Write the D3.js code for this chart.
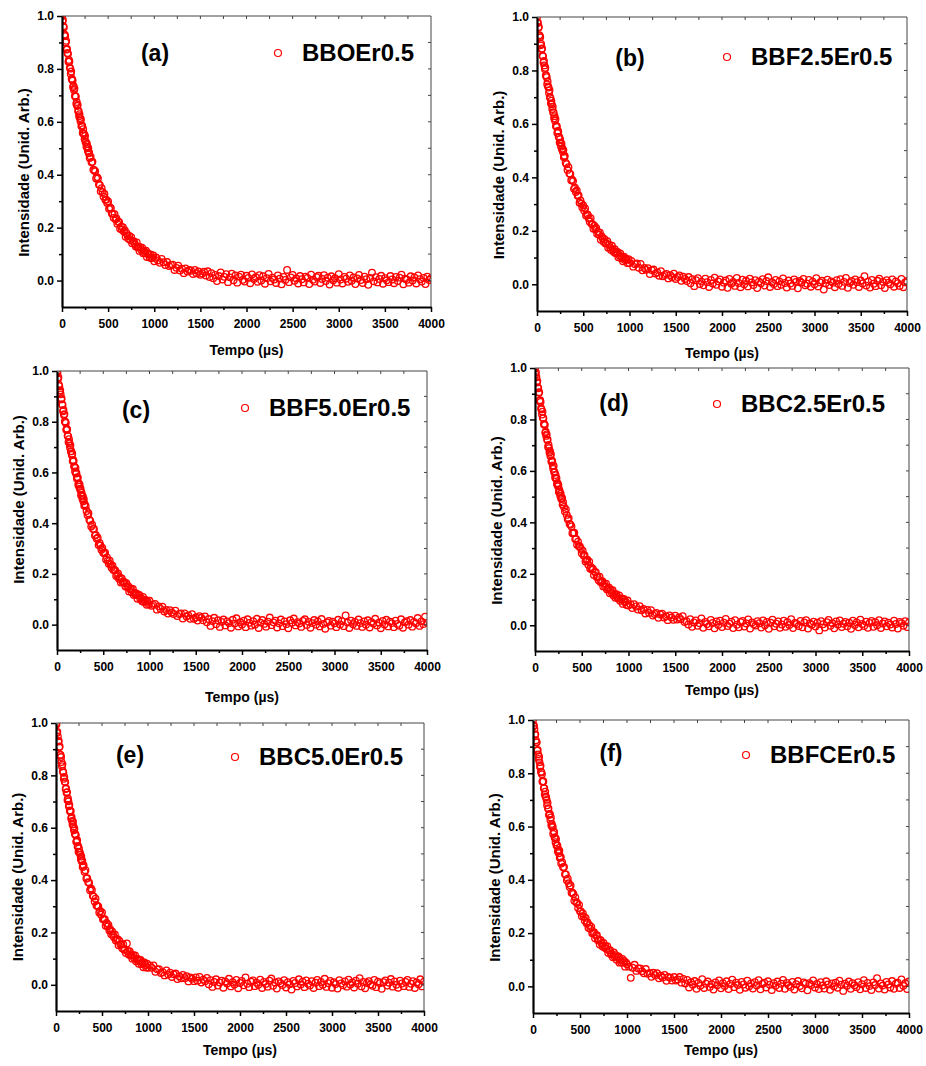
<!DOCTYPE html>
<html>
<head>
<meta charset="utf-8">
<script src="https://cdn.jsdelivr.net/npm/d3@7"></script>
<style>
  body { margin: 0; background: #fff; }
  svg text { font-family: "Liberation Sans", Arial, sans-serif; font-weight: bold; fill: #000; }
  .tick text { font-family: "Liberation Sans Narrow", "Liberation Sans", Arial, sans-serif; font-size: 12px; }
</style>
</head>
<body>
<div id="chart"></div>
<script>
// sampling times (µs), shared by every decay curve
const timeUs = [
  0, 5, 10, 15, 20, 25, 30, 35, 40, 45,
  50, 55, 60, 65, 70, 75, 80, 85, 90, 95,
  100, 105, 110, 115, 120, 125, 130, 135, 140, 145,
  150, 155, 160, 165, 170, 175, 180, 185, 190, 195,
  200, 205, 210, 215, 220, 225, 230, 235, 240, 245,
  250, 255, 260, 265, 270, 275, 280, 285, 290, 295,
  300,
  310, 320, 330, 340, 350, 360, 370, 380, 390, 400,
  410, 420, 430, 440, 450, 460, 470, 480, 490, 500,
  510, 520, 530, 540, 550, 560, 570, 580, 590, 600,
  610, 620, 630, 640, 650, 660, 670, 680, 690, 700,
  710, 720, 730, 740, 750, 760, 770, 780, 790, 800,
  810, 820, 830, 840, 850, 860, 870, 880, 890, 900,
  910, 920, 930, 940, 950, 960, 970, 980, 990, 1000,
  1020, 1040, 1060, 1080, 1100, 1120, 1140, 1160, 1180, 1200,
  1220, 1240, 1260, 1280, 1300, 1320, 1340, 1360, 1380, 1400,
  1420, 1440, 1460, 1480, 1500, 1520, 1540, 1560, 1580, 1600,
  1620, 1640, 1660, 1680, 1700, 1720, 1740, 1760, 1780, 1800,
  1820, 1840, 1860, 1880, 1900, 1920, 1940, 1960, 1980, 2000,
  2020, 2040, 2060, 2080, 2100, 2120, 2140, 2160, 2180, 2200,
  2220, 2240, 2260, 2280, 2300, 2320, 2340, 2360, 2380, 2400,
  2420, 2440, 2460, 2480, 2500, 2520, 2540, 2560, 2580, 2600,
  2620, 2640, 2660, 2680, 2700, 2720, 2740, 2760, 2780, 2800,
  2820, 2840, 2860, 2880, 2900, 2920, 2940, 2960, 2980, 3000,
  3020, 3040, 3060, 3080, 3100, 3120, 3140, 3160, 3180, 3200,
  3220, 3240, 3260, 3280, 3300, 3320, 3340, 3360, 3380, 3400,
  3420, 3440, 3460, 3480, 3500, 3520, 3540, 3560, 3580, 3600,
  3620, 3640, 3660, 3680, 3700, 3720, 3740, 3760, 3780, 3800,
  3820, 3840, 3860, 3880, 3900, 3920, 3940, 3960, 3980, 4000
];

const intensityA = [
  1.000, 0.981, 0.985, 0.961, 0.957, 0.928, 0.929, 0.924, 0.900, 0.906,
  0.873, 0.875, 0.860, 0.857, 0.827, 0.834, 0.828, 0.805, 0.801, 0.781,
  0.790, 0.763, 0.760, 0.756, 0.731, 0.736, 0.720, 0.726, 0.698, 0.697,
  0.695, 0.668, 0.675, 0.660, 0.664, 0.640, 0.641, 0.621, 0.629, 0.614,
  0.603, 0.610, 0.584, 0.586, 0.583, 0.558, 0.572, 0.555, 0.553, 0.535,
  0.547, 0.524, 0.523, 0.506, 0.517, 0.506, 0.491, 0.500, 0.481, 0.483,
  0.463,
  0.468, 0.447, 0.449, 0.419, 0.417, 0.413, 0.386, 0.391, 0.386, 0.363,
  0.361, 0.338, 0.349, 0.334, 0.318, 0.327, 0.305, 0.306, 0.293, 0.299,
  0.271, 0.276, 0.273, 0.253, 0.253, 0.237, 0.251, 0.232, 0.235, 0.215,
  0.222, 0.221, 0.196, 0.204, 0.192, 0.202, 0.185, 0.190, 0.166, 0.179,
  0.170, 0.158, 0.169, 0.153, 0.164, 0.141, 0.149, 0.148, 0.138, 0.129,
  0.144, 0.126, 0.128, 0.112, 0.126, 0.116, 0.123, 0.103, 0.112, 0.103,
  0.113, 0.089, 0.103, 0.098, 0.087, 0.099, 0.084, 0.087, 0.095, 0.073,
  0.087, 0.076, 0.067, 0.082, 0.069, 0.059, 0.070, 0.055, 0.059, 0.060,
  0.040, 0.048, 0.056, 0.038, 0.045, 0.028, 0.046, 0.034, 0.040, 0.037,
  0.025, 0.040, 0.027, 0.034, 0.022, 0.027, 0.033, 0.019, 0.035, 0.013,
  0.028, 0.009, 0.021, -0.002, 0.017, 0.031, 0.004, 0.014, 0.024, -0.006,
  0.012, 0.026, 0.001, 0.019, -0.008, 0.015, 0.022, 0.003, -0.004, 0.018,
  0.010, -0.010, 0.023, 0.006, 0.013, -0.005, 0.020, 0.000, 0.016, -0.012,
  0.009, 0.025, -0.003, 0.011, 0.004, -0.009, 0.019, 0.007, -0.014, 0.014,
  0.002, 0.040, -0.006, 0.012, 0.021, -0.001, 0.008, -0.011, 0.017, 0.005,
  -0.007, 0.015, 0.010, -0.013, 0.022, 0.003, -0.004, 0.013, 0.018, -0.009,
  0.006, 0.020, -0.002, 0.011, -0.015, 0.016, 0.001, 0.009, -0.008, 0.024,
  0.004, -0.011, 0.014, 0.007, -0.005, 0.019, -0.001, 0.012, -0.013, 0.008,
  0.021, 0.002, -0.009, 0.015, 0.005, -0.016, 0.010, 0.030, -0.003, 0.013,
  -0.007, 0.006, 0.018, -0.012, 0.009, 0.001, -0.006, 0.017, 0.004, -0.010,
  0.014, -0.002, 0.011, 0.022, -0.014, 0.007, 0.003, -0.008, 0.016, 0.000,
  0.012, -0.011, 0.019, 0.005, -0.004, 0.010, -0.013, 0.015, 0.002, 0.008
];

const intensityB = [
  1.000, 0.978, 0.979, 0.960, 0.963, 0.932, 0.929, 0.924, 0.894, 0.899,
  0.880, 0.882, 0.855, 0.853, 0.830, 0.836, 0.819, 0.805, 0.810, 0.781,
  0.781, 0.775, 0.748, 0.759, 0.740, 0.736, 0.716, 0.726, 0.700, 0.697,
  0.677, 0.687, 0.673, 0.656, 0.664, 0.643, 0.643, 0.621, 0.629, 0.612,
  0.618, 0.591, 0.592, 0.590, 0.566, 0.574, 0.572, 0.551, 0.551, 0.530,
  0.543, 0.530, 0.515, 0.526, 0.505, 0.508, 0.496, 0.502, 0.475, 0.481,
  0.479,
  0.455, 0.449, 0.428, 0.438, 0.414, 0.413, 0.389, 0.391, 0.386, 0.357,
  0.361, 0.345, 0.351, 0.331, 0.332, 0.305, 0.314, 0.302, 0.287, 0.295,
  0.276, 0.284, 0.257, 0.262, 0.259, 0.246, 0.234, 0.247, 0.226, 0.225,
  0.208, 0.219, 0.207, 0.211, 0.189, 0.196, 0.185, 0.193, 0.167, 0.179,
  0.172, 0.159, 0.169, 0.153, 0.154, 0.161, 0.137, 0.148, 0.138, 0.128,
  0.144, 0.131, 0.121, 0.131, 0.116, 0.120, 0.121, 0.101, 0.108, 0.115,
  0.097, 0.103, 0.086, 0.103, 0.091, 0.096, 0.092, 0.079, 0.094, 0.080,
  0.087, 0.066, 0.075, 0.078, 0.062, 0.076, 0.052, 0.061, 0.054, 0.060,
  0.038, 0.053, 0.055, 0.040, 0.044, 0.032, 0.049, 0.030, 0.035, 0.039,
  0.022, 0.034, 0.026, 0.040, 0.020, 0.027, 0.033, 0.013, 0.028, 0.020,
  0.012, 0.027, 0.004, 0.019, -0.007, 0.015, 0.023, 0.001, 0.010, -0.004,
  0.021, 0.008, -0.010, 0.016, 0.003, 0.025, -0.002, 0.011, 0.018, -0.009,
  0.006, 0.014, -0.013, 0.020, 0.002, 0.009, -0.006, 0.024, 0.005, -0.011,
  0.017, 0.000, 0.013, -0.008, 0.021, 0.007, -0.003, 0.015, -0.014, 0.010,
  0.004, 0.019, -0.005, 0.012, 0.026, -0.010, 0.008, 0.001, 0.016, -0.007,
  0.011, -0.002, 0.022, 0.005, -0.012, 0.014, 0.003, -0.006, 0.018, 0.009,
  -0.015, 0.012, 0.006, 0.020, -0.004, 0.002, 0.016, -0.009, 0.010, 0.000,
  0.023, -0.008, 0.007, 0.013, -0.020, 0.004, 0.017, -0.003, 0.011, 0.006,
  -0.011, 0.015, 0.001, 0.019, -0.006, 0.009, 0.024, -0.013, 0.005, 0.012,
  -0.002, 0.018, 0.008, -0.010, 0.014, 0.003, 0.030, -0.005, 0.010, -0.012,
  0.016, 0.002, -0.007, 0.013, 0.021, -0.004, 0.009, -0.014, 0.015, 0.006,
  0.000, 0.018, -0.009, 0.011, 0.004, -0.006, 0.020, -0.011, 0.007, 0.012
];

const intensityC = [
  0.999, 0.992, 0.968, 0.975, 0.946, 0.940, 0.918, 0.924, 0.908, 0.888,
  0.892, 0.869, 0.866, 0.841, 0.846, 0.827, 0.830, 0.801, 0.799, 0.795,
  0.768, 0.773, 0.769, 0.745, 0.743, 0.720, 0.731, 0.715, 0.698, 0.706,
  0.683, 0.684, 0.669, 0.674, 0.645, 0.649, 0.645, 0.624, 0.622, 0.604,
  0.618, 0.596, 0.598, 0.576, 0.581, 0.579, 0.552, 0.558, 0.544, 0.552,
  0.533, 0.536, 0.510, 0.521, 0.510, 0.496, 0.505, 0.486, 0.495, 0.469,
  0.475,
  0.467, 0.448, 0.432, 0.439, 0.414, 0.409, 0.387, 0.394, 0.377, 0.377,
  0.351, 0.354, 0.339, 0.343, 0.314, 0.322, 0.312, 0.295, 0.302, 0.283,
  0.281, 0.284, 0.257, 0.265, 0.252, 0.240, 0.252, 0.237, 0.224, 0.232,
  0.215, 0.216, 0.214, 0.192, 0.197, 0.202, 0.181, 0.186, 0.166, 0.182,
  0.167, 0.170, 0.165, 0.150, 0.163, 0.148, 0.152, 0.131, 0.140, 0.143,
  0.127, 0.141, 0.117, 0.125, 0.118, 0.123, 0.102, 0.116, 0.117, 0.101,
  0.105, 0.092, 0.109, 0.089, 0.093, 0.097, 0.078, 0.090, 0.081, 0.094,
  0.074, 0.078, 0.082, 0.059, 0.072, 0.062, 0.071, 0.052, 0.058, 0.044,
  0.057, 0.048, 0.042, 0.055, 0.034, 0.042, 0.044, 0.024, 0.044, 0.032,
  0.036, 0.023, 0.041, 0.023, 0.028, 0.016, 0.033, 0.027, 0.017, 0.032,
  0.009, 0.022, -0.005, 0.014, 0.027, 0.002, 0.017, -0.009, 0.011, 0.020,
  -0.003, 0.013, 0.006, -0.012, 0.019, 0.004, 0.025, -0.007, 0.010, 0.001,
  0.016, -0.010, 0.021, 0.007, -0.004, 0.014, 0.000, 0.023, -0.013, 0.008,
  0.018, 0.003, -0.008, 0.012, 0.028, -0.002, 0.009, 0.016, -0.011, 0.005,
  0.020, -0.006, 0.013, 0.002, -0.014, 0.017, 0.007, 0.024, -0.003, 0.010,
  0.004, -0.009, 0.015, 0.021, -0.001, 0.011, -0.012, 0.006, 0.018, 0.000,
  0.013, -0.007, 0.022, 0.003, -0.016, 0.009, 0.015, -0.004, 0.012, 0.005,
  -0.010, 0.019, 0.001, 0.014, -0.006, 0.036, 0.008, -0.013, 0.016, 0.002,
  0.011, -0.005, 0.020, 0.006, -0.009, 0.013, 0.000, 0.017, -0.011, 0.010,
  0.004, 0.023, -0.003, 0.008, -0.014, 0.015, 0.001, 0.019, -0.007, 0.012,
  0.006, -0.010, 0.016, 0.003, -0.004, 0.021, -0.012, 0.009, 0.014, 0.000,
  0.018, -0.008, 0.011, 0.005, 0.026, -0.005, 0.013, 0.002, 0.031, 0.007
];

const intensityD = [
  1.000, 0.976, 0.983, 0.964, 0.944, 0.949, 0.924, 0.921, 0.904, 0.906,
  0.873, 0.875, 0.868, 0.844, 0.839, 0.819, 0.830, 0.806, 0.805, 0.781,
  0.783, 0.778, 0.749, 0.752, 0.736, 0.742, 0.721, 0.721, 0.693, 0.701,
  0.688, 0.672, 0.678, 0.658, 0.665, 0.637, 0.641, 0.636, 0.621, 0.608,
  0.619, 0.596, 0.594, 0.574, 0.584, 0.570, 0.572, 0.548, 0.553, 0.540,
  0.545, 0.518, 0.527, 0.519, 0.503, 0.511, 0.493, 0.491, 0.495, 0.469,
  0.478,
  0.460, 0.442, 0.450, 0.429, 0.412, 0.416, 0.394, 0.391, 0.384, 0.358,
  0.359, 0.360, 0.335, 0.336, 0.313, 0.325, 0.307, 0.306, 0.298, 0.280,
  0.290, 0.271, 0.272, 0.248, 0.254, 0.255, 0.235, 0.247, 0.220, 0.226,
  0.217, 0.219, 0.195, 0.207, 0.206, 0.188, 0.189, 0.175, 0.189, 0.168,
  0.169, 0.171, 0.151, 0.161, 0.150, 0.162, 0.139, 0.143, 0.147, 0.124,
  0.137, 0.127, 0.136, 0.116, 0.122, 0.107, 0.121, 0.111, 0.104, 0.116,
  0.095, 0.102, 0.104, 0.083, 0.102, 0.090, 0.092, 0.079, 0.096, 0.077,
  0.082, 0.067, 0.082, 0.073, 0.061, 0.074, 0.058, 0.063, 0.046, 0.060,
  0.048, 0.059, 0.038, 0.044, 0.048, 0.029, 0.042, 0.045, 0.030, 0.035,
  0.020, 0.038, 0.030, 0.021, 0.037, 0.022, 0.030, 0.023, 0.035, 0.013,
  0.016, 0.003, 0.024, -0.006, 0.011, 0.019, -0.002, 0.008, 0.027, -0.010,
  0.013, 0.005, -0.004, 0.021, 0.009, -0.012, 0.015, 0.001, 0.018, -0.007,
  0.010, 0.025, -0.003, 0.006, 0.014, -0.011, 0.020, 0.002, -0.008, 0.012,
  0.017, -0.005, 0.007, 0.023, -0.013, 0.011, 0.004, -0.001, 0.016, 0.008,
  -0.009, 0.019, 0.000, 0.013, -0.014, 0.010, 0.022, -0.004, 0.006, 0.015,
  -0.010, 0.003, 0.018, -0.006, 0.012, 0.001, 0.024, -0.011, 0.009, 0.005,
  -0.003, 0.017, -0.008, 0.011, 0.020, -0.013, 0.007, 0.002, 0.014, -0.005,
  0.010, -0.020, 0.016, 0.004, -0.009, 0.012, 0.021, -0.002, 0.008, -0.012,
  0.015, 0.003, 0.019, -0.007, 0.006, 0.013, -0.004, 0.010, -0.014, 0.018,
  0.001, 0.011, -0.008, 0.022, 0.005, -0.003, 0.014, -0.010, 0.009, 0.017,
  -0.006, 0.012, 0.000, 0.020, -0.011, 0.007, 0.015, -0.004, 0.010, 0.003,
  -0.009, 0.018, 0.005, -0.013, 0.013, 0.008, -0.002, 0.016, -0.007, 0.011
];

const intensityE = [
  0.998, 0.994, 0.962, 0.966, 0.949, 0.929, 0.931, 0.907, 0.910, 0.878,
  0.878, 0.870, 0.851, 0.835, 0.842, 0.816, 0.810, 0.787, 0.794, 0.776,
  0.775, 0.748, 0.750, 0.734, 0.736, 0.706, 0.712, 0.701, 0.682, 0.687,
  0.666, 0.662, 0.664, 0.635, 0.641, 0.626, 0.612, 0.623, 0.605, 0.590,
  0.596, 0.576, 0.575, 0.571, 0.546, 0.549, 0.552, 0.528, 0.530, 0.508,
  0.521, 0.505, 0.505, 0.497, 0.480, 0.490, 0.472, 0.474, 0.450, 0.456,
  0.457,
  0.432, 0.438, 0.406, 0.407, 0.392, 0.390, 0.361, 0.368, 0.362, 0.340,
  0.337, 0.318, 0.329, 0.303, 0.301, 0.299, 0.276, 0.282, 0.268, 0.276,
  0.250, 0.251, 0.251, 0.226, 0.236, 0.223, 0.229, 0.207, 0.211, 0.193,
  0.204, 0.191, 0.182, 0.192, 0.169, 0.174, 0.174, 0.151, 0.168, 0.154,
  0.155, 0.140, 0.155, 0.134, 0.136, 0.122, 0.158, 0.128, 0.116, 0.128,
  0.112, 0.117, 0.100, 0.113, 0.102, 0.112, 0.090, 0.096, 0.099, 0.080,
  0.092, 0.095, 0.079, 0.084, 0.067, 0.085, 0.076, 0.066, 0.081, 0.065,
  0.074, 0.065, 0.074, 0.050, 0.059, 0.060, 0.045, 0.048, 0.036, 0.055,
  0.039, 0.046, 0.030, 0.040, 0.043, 0.022, 0.033, 0.025, 0.038, 0.025,
  0.033, 0.013, 0.028, 0.023, 0.014, 0.028, 0.016, 0.030, 0.009, 0.020,
  0.014, 0.026, 0.002, 0.018, -0.008, 0.011, 0.021, -0.003, 0.009, 0.016,
  -0.011, 0.013, 0.005, 0.023, -0.006, 0.010, 0.001, 0.019, -0.013, 0.007,
  0.015, -0.002, 0.028, 0.004, -0.009, 0.012, 0.017, -0.005, 0.008, 0.000,
  0.020, -0.012, 0.011, 0.003, -0.007, 0.016, 0.024, -0.004, 0.009, -0.014,
  0.013, 0.006, -0.001, 0.018, -0.010, 0.010, 0.002, -0.018, 0.015, 0.007,
  -0.006, 0.021, 0.001, 0.012, -0.009, 0.017, 0.004, -0.003, 0.014, -0.012,
  0.008, 0.019, -0.005, 0.011, 0.000, 0.023, -0.008, 0.006, 0.015, -0.011,
  0.010, 0.003, -0.014, 0.018, 0.005, -0.002, 0.013, -0.007, 0.020, 0.001,
  0.009, -0.010, 0.016, 0.004, 0.025, -0.006, 0.011, -0.013, 0.007, 0.014,
  0.002, -0.004, 0.019, -0.009, 0.012, 0.006, -0.015, 0.010, 0.017, -0.003,
  0.008, 0.022, -0.007, 0.013, 0.000, -0.011, 0.016, 0.005, -0.005, 0.011,
  0.019, -0.008, 0.004, 0.014, -0.012, 0.009, 0.002, 0.021, -0.006, 0.012
];

const intensityF = [
  1.000, 0.977, 0.980, 0.966, 0.945, 0.947, 0.924, 0.917, 0.916, 0.885,
  0.888, 0.871, 0.854, 0.862, 0.841, 0.824, 0.828, 0.806, 0.803, 0.796,
  0.769, 0.769, 0.770, 0.744, 0.744, 0.720, 0.731, 0.712, 0.710, 0.700,
  0.680, 0.689, 0.668, 0.668, 0.643, 0.647, 0.646, 0.625, 0.634, 0.605,
  0.610, 0.598, 0.599, 0.572, 0.582, 0.579, 0.559, 0.558, 0.541, 0.553,
  0.529, 0.529, 0.528, 0.506, 0.513, 0.500, 0.509, 0.483, 0.485, 0.486,
  0.461,
  0.466, 0.447, 0.448, 0.421, 0.420, 0.398, 0.404, 0.387, 0.373, 0.379,
  0.351, 0.352, 0.347, 0.321, 0.334, 0.316, 0.313, 0.294, 0.306, 0.282,
  0.281, 0.263, 0.274, 0.262, 0.247, 0.257, 0.237, 0.240, 0.220, 0.230,
  0.216, 0.223, 0.199, 0.202, 0.203, 0.181, 0.191, 0.192, 0.173, 0.176,
  0.157, 0.173, 0.162, 0.150, 0.163, 0.146, 0.151, 0.141, 0.151, 0.126,
  0.135, 0.136, 0.120, 0.122, 0.109, 0.127, 0.111, 0.117, 0.100, 0.109,
  0.112, 0.089, 0.100, 0.090, 0.103, 0.089, 0.095, 0.074, 0.089, 0.083,
  0.074, 0.032, 0.070, 0.081, 0.058, 0.067, 0.067, 0.057, 0.049, 0.065,
  0.047, 0.050, 0.036, 0.051, 0.042, 0.049, 0.030, 0.040, 0.033, 0.043,
  0.021, 0.035, 0.032, 0.022, 0.035, 0.022, 0.026, 0.035, 0.014, 0.028,
  0.011, 0.024, -0.004, 0.016, 0.006, 0.020, -0.009, 0.013, 0.002, 0.027,
  -0.006, 0.010, 0.018, -0.002, 0.008, -0.012, 0.015, 0.004, 0.022, -0.007,
  0.012, 0.001, 0.019, -0.010, 0.009, 0.025, -0.003, 0.014, 0.005, -0.013,
  0.017, 0.007, -0.005, 0.021, 0.000, 0.011, -0.008, 0.016, 0.003, 0.023,
  -0.011, 0.009, 0.014, -0.004, 0.019, 0.006, -0.014, 0.012, 0.002, 0.018,
  -0.006, 0.010, 0.024, -0.009, 0.013, 0.004, -0.002, 0.017, -0.012, 0.008,
  0.020, 0.001, -0.007, 0.015, 0.010, -0.015, 0.012, 0.005, 0.022, -0.004,
  0.009, -0.010, 0.016, 0.003, -0.008, 0.019, 0.007, -0.013, 0.011, 0.000,
  0.014, -0.005, 0.021, 0.006, -0.017, 0.010, 0.002, 0.018, -0.009, 0.012,
  0.004, -0.003, 0.016, -0.011, 0.008, 0.023, -0.006, 0.013, 0.001, -0.014,
  0.015, 0.005, 0.031, -0.008, 0.011, 0.003, -0.012, 0.017, 0.007, -0.004,
  0.020, -0.009, 0.010, 0.014, -0.006, 0.026, 0.002, 0.012, -0.010, 0.018
];

const panelTags = ["(a)", "(b)", "(c)", "(d)", "(e)", "(f)"];
const sampleNames = ["BBOEr0.5", "BBF2.5Er0.5", "BBF5.0Er0.5", "BBC2.5Er0.5", "BBC5.0Er0.5", "BBFCEr0.5"];
const xTicks = [0, 500, 1000, 1500, 2000, 2500, 3000, 3500, 4000];
const xMinorTicks = [250, 750, 1250, 1750, 2250, 2750, 3250, 3750];
const yTicks = [0.0, 0.2, 0.4, 0.6, 0.8, 1.0];
const yMinorTicks = [0.1, 0.3, 0.5, 0.7, 0.9];
const xTitle = "Tempo (µs)";
const yTitle = "Intensidade (Unid. Arb.)";

const series = [intensityA, intensityB, intensityC, intensityD, intensityE, intensityF];

// where each panel sits on the page
const layout = [
  { left: 62, right: 431, top: 16, bottom: 307, tagX: 155, tagY: 53, legX: 278, legY: 53, xTitleY: 350, yShift: 11 },
  { left: 537, right: 907, top: 17, bottom: 311, tagX: 630, tagY: 58, legX: 727, legY: 57, xTitleY: 353, yShift: 11 },
  { left: 57, right: 427, top: 371, bottom: 650, tagX: 136, tagY: 410, legX: 245, legY: 408, xTitleY: 697, yShift: -11 },
  { left: 535, right: 909, top: 368, bottom: 651, tagX: 614, tagY: 403, legX: 717, legY: 404, xTitleY: 690, yShift: 11 },
  { left: 56, right: 424, top: 723, bottom: 1011, tagX: 130, tagY: 755, legX: 235, legY: 757, xTitleY: 1050, yShift: 10 },
  { left: 533, right: 909, top: 720, bottom: 1013, tagX: 611, tagY: 753, legX: 746, legY: 755, xTitleY: 1050, yShift: 11 },
];

const red = "#ff0000";

const svg = d3.select("#chart").append("svg")
  .attr("width", 926)
  .attr("height", 1066);

series.forEach((values, i) => {
  const L = layout[i];
  const x = d3.scaleLinear().domain([0, 4000]).range([L.left, L.right]);
  const y = d3.scaleLinear().domain([-0.1, 1.0]).range([L.bottom, L.top]);
  const g = svg.append("g");

  g.append("clipPath").attr("id", "clip" + i)
    .append("rect")
    .attr("x", L.left).attr("y", L.top)
    .attr("width", L.right - L.left).attr("height", L.bottom - L.top);

  // data points
  g.append("g")
    .attr("clip-path", `url(#clip${i})`)
    .selectAll("circle")
    .data(values)
    .join("circle")
    .attr("cx", (d, j) => x(timeUs[j]))
    .attr("cy", (d) => y(d))
    .attr("r", 3.3)
    .attr("fill", "none")
    .attr("stroke", red)
    .attr("stroke-width", 1.3);

  // thin top and right frame with inward ticks
  const frame = g.append("g").attr("stroke", "#444").attr("stroke-width", 1);
  frame.append("line")
    .attr("x1", L.left).attr("x2", L.right).attr("y1", L.top).attr("y2", L.top);
  frame.append("line")
    .attr("x1", L.right).attr("x2", L.right).attr("y1", L.top).attr("y2", L.bottom);
  frame.selectAll("line.tt")
    .data(xTicks.concat(xMinorTicks).filter((d) => d > 0 && d < 4000))
    .join("line").attr("class", "tt")
    .attr("x1", (d) => x(d)).attr("x2", (d) => x(d))
    .attr("y1", L.top).attr("y2", L.top + 3);
  frame.selectAll("line.rt")
    .data(yTicks.concat(yMinorTicks).filter((d) => d < 1.0))
    .join("line").attr("class", "rt")
    .attr("x1", L.right).attr("x2", L.right - 3)
    .attr("y1", (d) => y(d)).attr("y2", (d) => y(d));

  // bottom axis
  const xAxis = g.append("g").attr("transform", `translate(0,${L.bottom})`);
  xAxis.append("g")
    .call(d3.axisBottom(x).tickValues(xMinorTicks).tickSize(3).tickSizeOuter(0).tickFormat(""))
    .call((a) => a.select(".domain").remove());
  xAxis.append("g")
    .call(d3.axisBottom(x).tickValues(xTicks).tickSize(5).tickSizeOuter(0).tickPadding(7).tickFormat(d3.format("d")));

  // left axis
  const yAxis = g.append("g").attr("transform", `translate(${L.left},0)`);
  yAxis.append("g")
    .call(d3.axisLeft(y).tickValues(yMinorTicks).tickSize(3).tickSizeOuter(0).tickFormat(""))
    .call((a) => a.select(".domain").remove());
  yAxis.append("g")
    .call(d3.axisLeft(y).tickValues(yTicks).tickSize(5).tickSizeOuter(0).tickPadding(3).tickFormat(d3.format(".1f")));

  g.selectAll(".domain").attr("stroke", "#000").attr("stroke-width", 2.2);
  g.selectAll(".tick line").attr("stroke", "#000").attr("stroke-width", 1.5);
  g.selectAll(".tick text").attr("fill", "#000");

  // axis titles
  g.append("text")
    .attr("x", (L.left + L.right) / 2)
    .attr("y", L.xTitleY)
    .attr("dy", "0.35em")
    .attr("text-anchor", "middle")
    .attr("font-size", 14)
    .text(xTitle);

  g.append("text")
    .attr("transform", `translate(${L.left - 38},${(L.top + L.bottom) / 2 + L.yShift}) rotate(-90)`)
    .attr("dy", "0.35em")
    .attr("text-anchor", "middle")
    .attr("font-size", 15)
    .text(yTitle);

  // panel tag and legend
  g.append("text")
    .attr("x", L.tagX).attr("y", L.tagY)
    .attr("dy", "0.35em")
    .attr("text-anchor", "middle")
    .attr("font-size", 23)
    .text(panelTags[i]);

  g.append("circle")
    .attr("cx", L.legX).attr("cy", L.legY)
    .attr("r", 3.5)
    .attr("fill", "none")
    .attr("stroke", red)
    .attr("stroke-width", 1.2);

  g.append("text")
    .attr("x", L.legX + 24).attr("y", L.legY)
    .attr("dy", "0.35em")
    .attr("font-size", 24)
    .text(sampleNames[i]);
});
</script>
</body>
</html>
